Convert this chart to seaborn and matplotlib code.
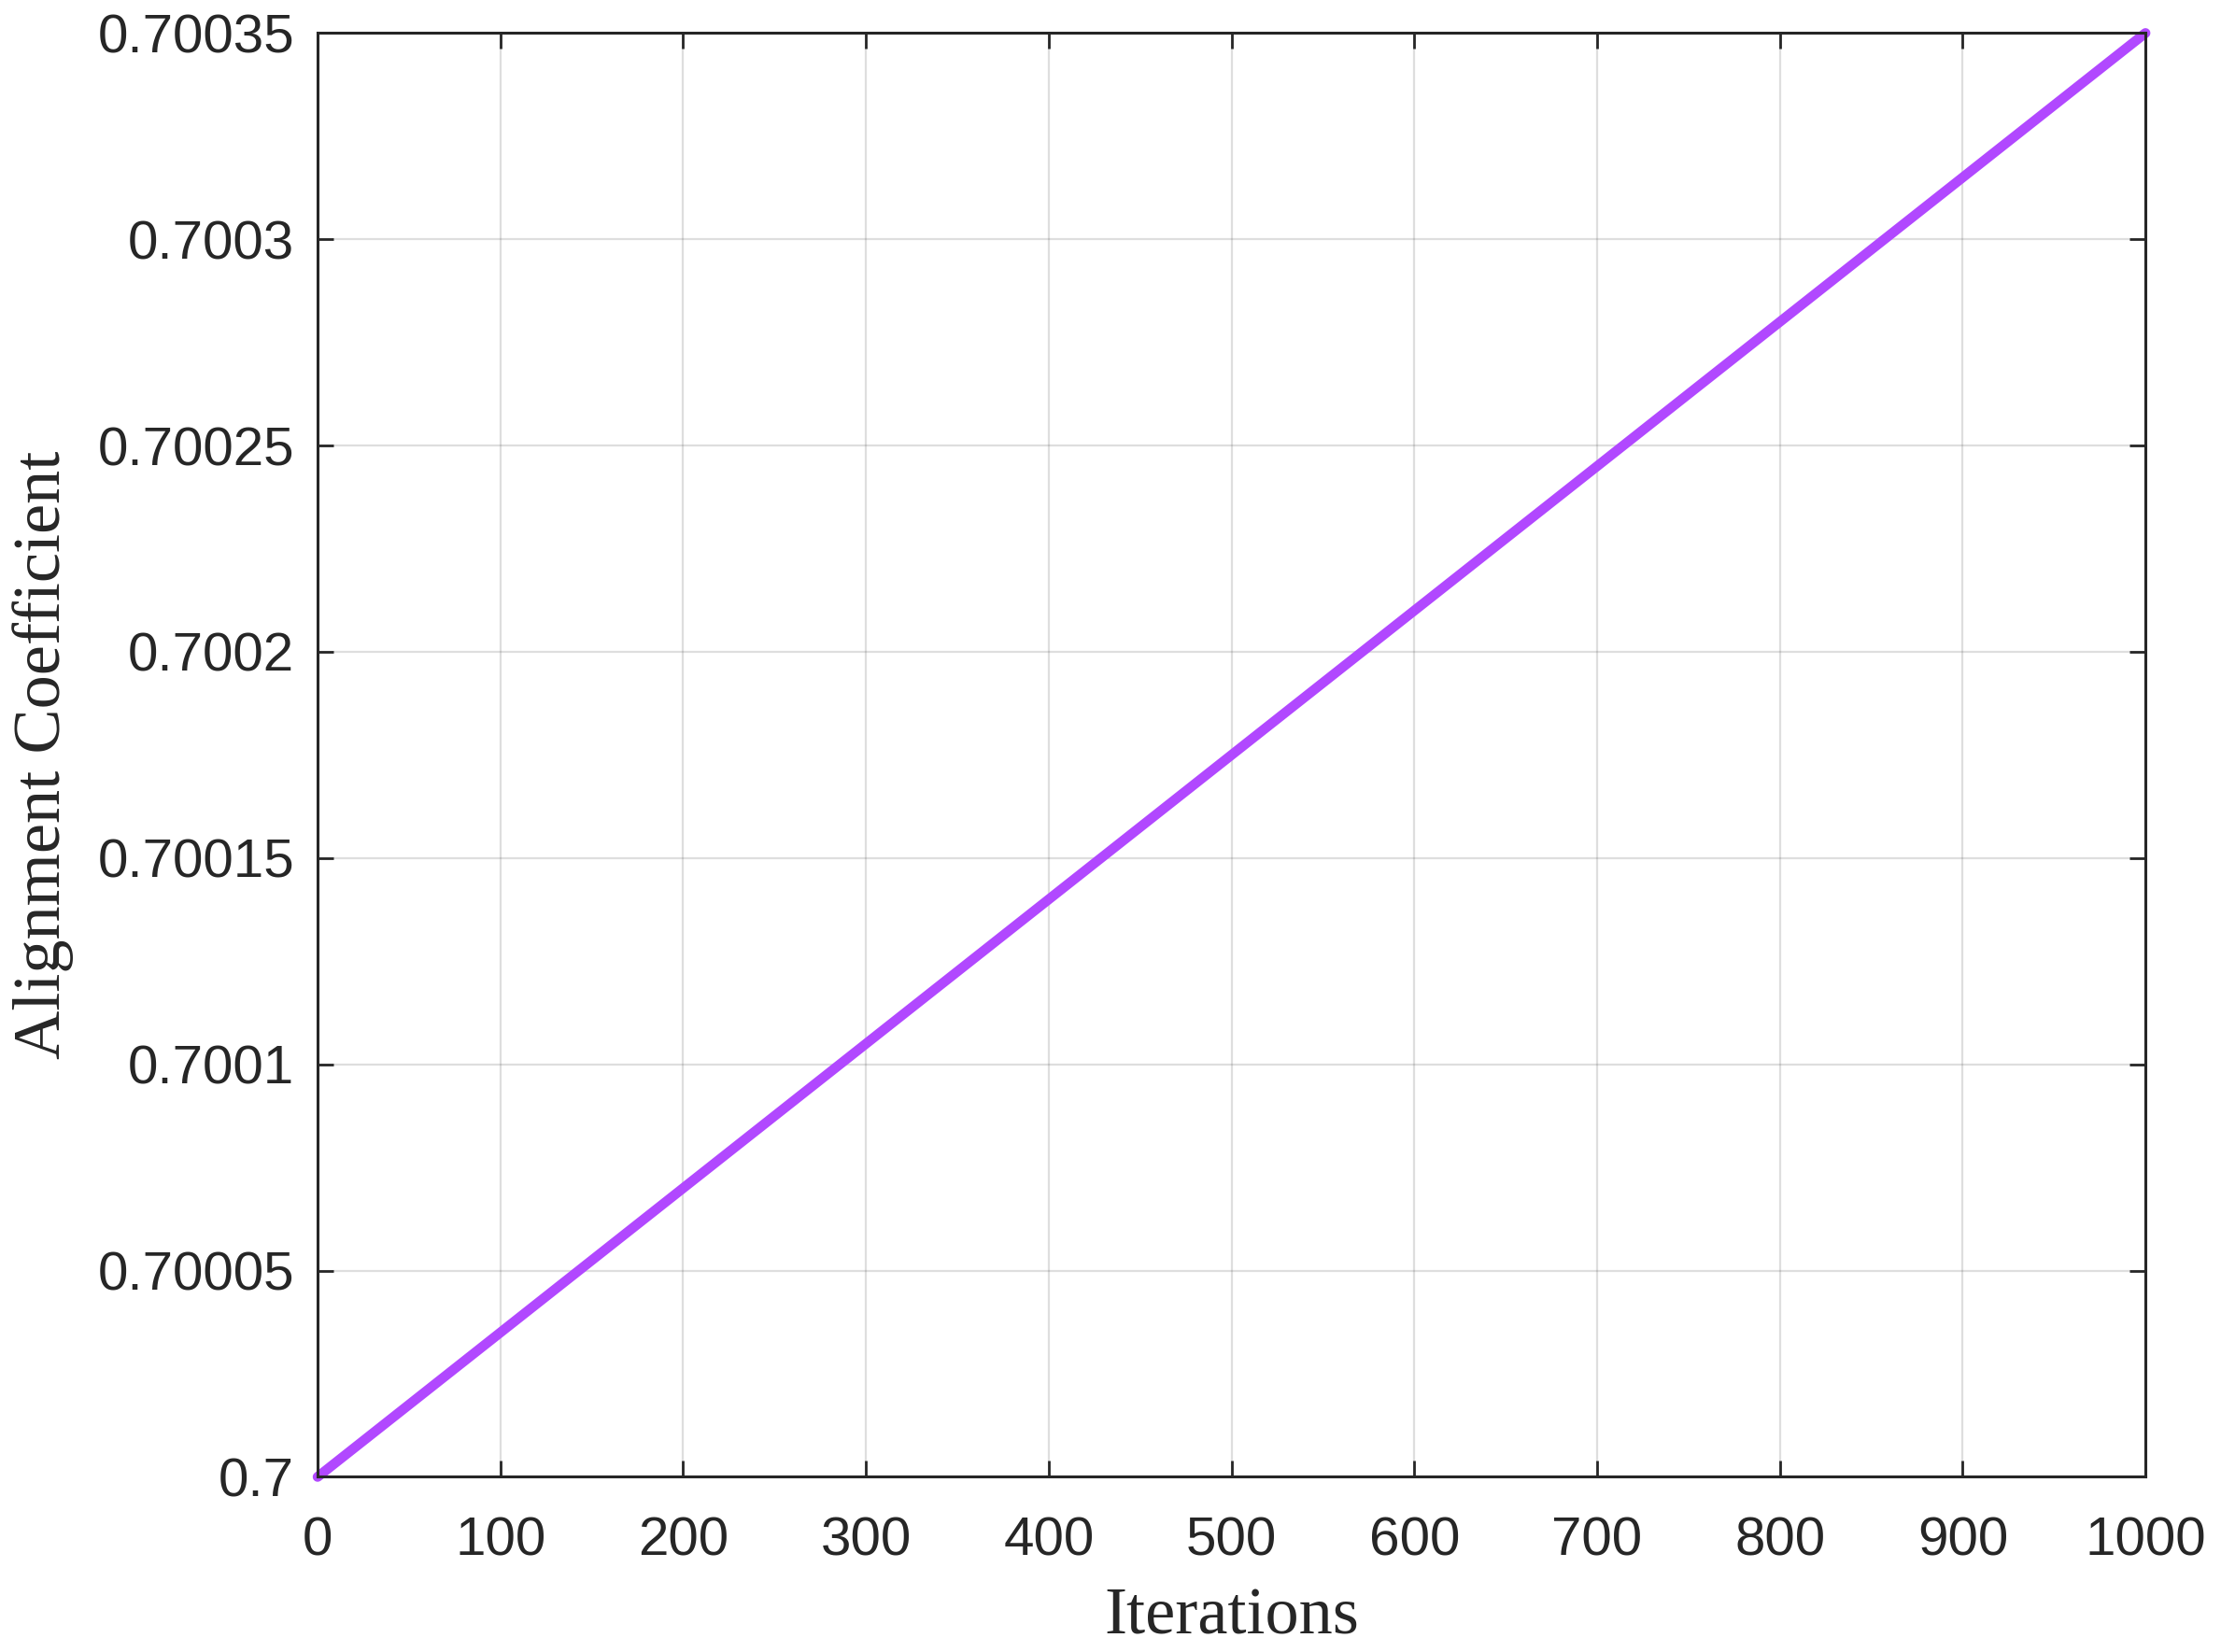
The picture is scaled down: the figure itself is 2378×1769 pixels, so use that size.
import numpy as np
import pandas as pd
import seaborn as sns
import matplotlib.pyplot as plt

# values
iterations = [0, 100, 200, 300, 400, 500, 600, 700, 800, 900, 1000]
alignment = [0.7, 0.700035, 0.70007, 0.700105, 0.70014, 0.700175,
             0.70021, 0.700245, 0.70028, 0.700315, 0.70035]
x_ticks = [0, 100, 200, 300, 400, 500, 600, 700, 800, 900, 1000]
y_ticks = [0.7, 0.70005, 0.7001, 0.70015, 0.7002, 0.70025, 0.7003, 0.70035]
y_tick_labels = ['0.7', '0.70005', '0.7001', '0.70015', '0.7002',
                 '0.70025', '0.7003', '0.70035']

df = pd.DataFrame({'Iterations': iterations, 'Alignment': alignment})

sns.set_style("whitegrid")
plt.rcParams['font.family'] = ['Liberation Sans', 'DejaVu Sans']

fig = plt.figure(figsize=(11.89, 8.845), dpi=200)
ax = fig.add_axes([0.143, 0.106, 0.823, 0.874])

sns.lineplot(data=df, x='Iterations', y='Alignment', ax=ax,
             color='#B148FF', linewidth=3.8, clip_on=False)

ax.set_xlim(0, 1000)
ax.set_ylim(0.7, 0.70035)
ax.set_xticks(x_ticks)
ax.set_xticklabels([str(t) for t in x_ticks])
ax.set_yticks(y_ticks)
ax.set_yticklabels(y_tick_labels)

ax.grid(True, color='#262626', alpha=0.15, linewidth=0.8)
for side in ['top', 'bottom', 'left', 'right']:
    ax.spines[side].set_visible(True)
    ax.spines[side].set_color('#262626')
    ax.spines[side].set_linewidth(1.1)

ax.tick_params(direction='in', length=6, width=1.0, color='#262626',
               top=True, right=True, bottom=True, left=True,
               labelsize=21, labelcolor='#262626')
ax.tick_params(axis='x', pad=15)
ax.tick_params(axis='y', pad=9)

ax.set_xlabel('Iterations', family=['Liberation Serif', 'DejaVu Serif'],
              fontsize=26, color='#262626', labelpad=8)
ax.set_ylabel('Alignment Coefficient', family=['Liberation Serif', 'DejaVu Serif'],
              fontsize=26, color='#262626', labelpad=9)

fig.savefig('out.png', dpi=200)
plt.close(fig)
